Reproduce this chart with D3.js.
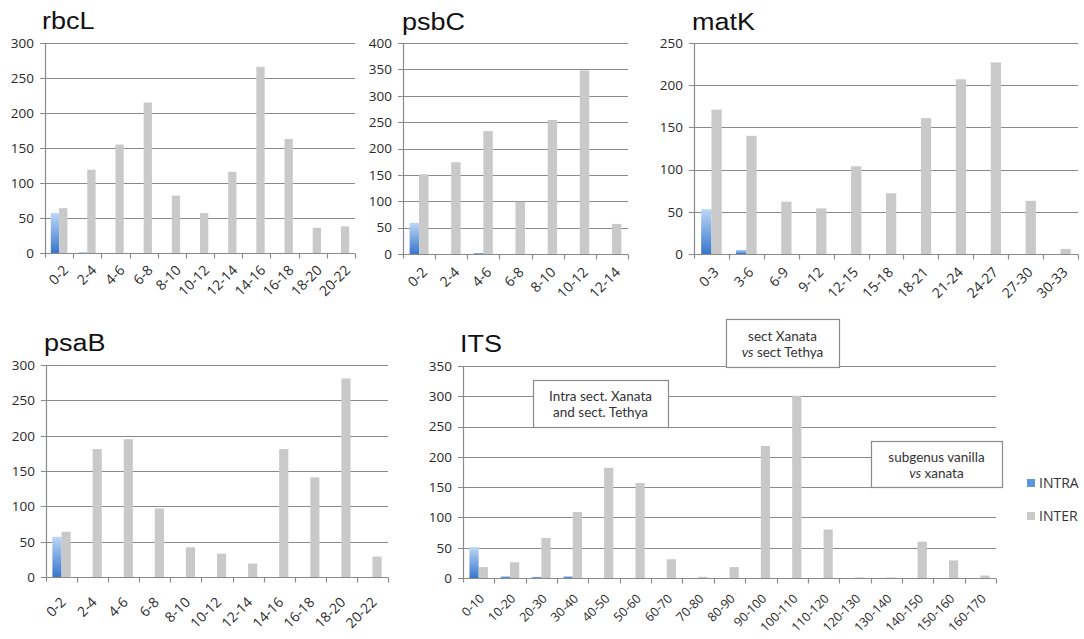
<!DOCTYPE html>
<html>
<head>
<meta charset="utf-8">
<script src="https://cdn.jsdelivr.net/npm/d3@7"></script>
<style>
  html, body { margin: 0; padding: 0; background: #fff; }
  svg { display: block; }
  .tick-y text, .tick-x text { font-family: "Open Sans", "Liberation Sans", sans-serif; fill: #2a2a2a; }
  .title { font-family: "Liberation Sans", Arial, sans-serif; fill: #111; }
  .note { font-family: Lato, "Open Sans", sans-serif; font-size: 13.5px; fill: #333; }
  .legend { font-family: "Open Sans", "Liberation Sans", sans-serif; font-size: 14px; fill: #333; }
</style>
</head>
<body>
<svg id="chart" width="1084" height="639"></svg>
<script>
// Pairwise distance distributions per marker: INTRA vs INTER counts by distance class
const series = ["INTRA", "INTER"];

const rbcLCats  = ["0-2","2-4","4-6","6-8","8-10","10-12","12-14","14-16","16-18","18-20","20-22"];
const rbcLIntra = [57, 1, 0, 0, 0, 0, 0, 0, 0, 0, 0];
const rbcLInter = [64, 119, 155, 215, 82, 57, 116, 266, 163, 36, 38];
const rbcLTicks = [0, 50, 100, 150, 200, 250, 300];

const psbCCats  = ["0-2","2-4","4-6","6-8","8-10","10-12","12-14"];
const psbCIntra = [59, 0, 2, 0, 0, 0, 0];
const psbCInter = [151, 174, 233, 99, 254, 348, 57];
const psbCTicks = [0, 50, 100, 150, 200, 250, 300, 350, 400];

const matKCats  = ["0-3","3-6","6-9","9-12","12-15","15-18","18-21","21-24","24-27","27-30","30-33"];
const matKIntra = [53, 5, 0, 0, 0, 0, 0, 0, 0, 0, 0];
const matKInter = [171, 140, 62, 54, 104, 72, 161, 207, 227, 63, 6];
const matKTicks = [0, 50, 100, 150, 200, 250];

const psaBCats  = ["0-2","2-4","4-6","6-8","8-10","10-12","12-14","14-16","16-18","18-20","20-22"];
const psaBIntra = [57, 0, 0, 0, 0, 0, 0, 0, 0, 0, 0];
const psaBInter = [64, 181, 195, 97, 42, 33, 19, 181, 141, 281, 29];
const psaBTicks = [0, 50, 100, 150, 200, 250, 300];

const itsCats  = ["0-10","10-20","20-30","30-40","40-50","50-60","60-70","70-80","80-90","90-100",
                  "100-110","110-120","120-130","130-140","140-150","150-160","160-170"];
const itsIntra = [51, 3, 2, 3, 0, 0, 0, 0, 0, 0, 0, 0, 0, 0, 0, 0, 0];
const itsInter = [18, 26, 66, 109, 182, 157, 31, 2, 18, 218, 301, 80, 1, 1, 60, 29, 4];
const itsTicks = [0, 50, 100, 150, 200, 250, 300, 350];

// each line is a list of [text, italic] pieces
const itsNotes = [
  { lines: [[["Intra sect. Xanata", false]], [["and sect. Tethya", false]]], box: [533, 380, 668, 427] },
  { lines: [[["sect Xanata", false]], [["vs", true], ["\u00a0sect Tethya", false]]], box: [726, 319, 839, 367] },
  { lines: [[["subgenus vanilla", false]], [["vs", true], ["\u00a0xanata", false]]], box: [871, 441, 1002, 487] }
];

const svg = d3.select("#chart");
const gridColor = "#8a8a8a";
const interColor = "#c9c9c9";

// vertical blue gradient for the INTRA bars
const defs = svg.append("defs");
const grad = defs.append("linearGradient").attr("id", "intraGrad")
  .attr("x1", 0).attr("y1", 0).attr("x2", 0).attr("y2", 1);
grad.append("stop").attr("offset", "0%").attr("stop-color", "#bcd7f7");
grad.append("stop").attr("offset", "100%").attr("stop-color", "#3876cc");

function panel(cfg) {
  const g = svg.append("g");
  const x = d3.scaleBand().domain(cfg.cats).range([cfg.x0, cfg.x1]).padding(0);
  const xs = d3.scaleBand().domain(series).range([0, x.bandwidth()]).paddingInner(0).paddingOuter(0.7);
  const yMax = cfg.ticks[cfg.ticks.length - 1];
  const y = d3.scaleLinear().domain([0, yMax]).range([cfg.yb, cfg.yt]);

  // horizontal gridlines with short ticks left of the axis
  g.append("g").selectAll("line").data(cfg.ticks.filter(t => t > 0)).join("line")
    .attr("x1", cfg.x0 - 5).attr("x2", cfg.x1)
    .attr("y1", d => Math.round(y(d)) + 0.5).attr("y2", d => Math.round(y(d)) + 0.5)
    .attr("stroke", gridColor).attr("stroke-width", 1.2);

  // y labels
  g.append("g").attr("class", "tick-y").selectAll("text").data(cfg.ticks).join("text")
    .attr("x", cfg.x0 - 11).attr("y", d => y(d)).attr("dy", "0.36em")
    .attr("text-anchor", "end").attr("font-size", 13.5).text(d => d);

  // bars
  const rows = cfg.cats.map((c, i) => ({ c, vals: [cfg.intra[i], cfg.inter[i]] }));
  g.append("g").selectAll("g").data(rows).join("g")
    .attr("transform", d => `translate(${x(d.c)},0)`)
    .selectAll("rect").data(d => series.map((s, k) => ({ s, v: d.vals[k] }))).join("rect")
    .attr("x", d => xs(d.s)).attr("width", xs.bandwidth())
    .attr("y", d => y(d.v)).attr("height", d => y(0) - y(d.v))
    .attr("fill", d => d.s === "INTRA" ? "url(#intraGrad)" : interColor);

  // axes lines
  const yb = Math.round(cfg.yb) + 0.5;
  g.append("line").attr("x1", cfg.x0 + 0.5).attr("x2", cfg.x0 + 0.5)
    .attr("y1", Math.round(cfg.yt)).attr("y2", yb + 4)
    .attr("stroke", gridColor).attr("stroke-width", 1.2);
  g.append("line").attr("x1", cfg.x0 - 5).attr("x2", cfg.x1)
    .attr("y1", yb).attr("y2", yb).attr("stroke", gridColor).attr("stroke-width", 1.2);
  // x tick marks on band boundaries
  const bounds = cfg.cats.map(c => x(c)).concat([cfg.x1]);
  g.append("g").selectAll("line").data(bounds.slice(1)).join("line")
    .attr("x1", d => Math.round(d) + 0.5).attr("x2", d => Math.round(d) + 0.5)
    .attr("y1", yb).attr("y2", yb + 5).attr("stroke", gridColor).attr("stroke-width", 1.2);

  // rotated x labels: top end of each label sits just below its band centre
  g.append("g").attr("class", "tick-x").selectAll("text").data(cfg.cats).join("text")
    .attr("text-anchor", "end").attr("font-size", cfg.lfs)
    .attr("transform", d => `translate(${x(d) + x.bandwidth() / 2 + cfg.ldx},${cfg.yb + cfg.ldy}) rotate(-45)`)
    .attr("dy", "0.72em")
    .text(d => d);

  // title
  g.append("text").attr("class", "title")
    .attr("transform", `translate(${cfg.tx},${cfg.ty}) scale(1,0.88)`)
    .attr("font-size", 27).text(cfg.title);
  return { g, x, y };
}

panel({ title: "rbcL", cats: rbcLCats, intra: rbcLIntra, inter: rbcLInter, ticks: rbcLTicks,
        x0: 45, x1: 355, yt: 43, yb: 253, tx: 42, ty: 29, ldx: 3, ldy: 11, lfs: 14 });
panel({ title: "psbC", cats: psbCCats, intra: psbCIntra, inter: psbCInter, ticks: psbCTicks,
        x0: 403, x1: 628, yt: 43, yb: 254, tx: 402, ty: 30, ldx: 2, ldy: 12, lfs: 14 });
panel({ title: "matK", cats: matKCats, intra: matKIntra, inter: matKInter, ticks: matKTicks,
        x0: 694, x1: 1078, yt: 43, yb: 254, tx: 692, ty: 30, ldx: 1, ldy: 12, lfs: 14 });
panel({ title: "psaB", cats: psaBCats, intra: psaBIntra, inter: psaBInter, ticks: psaBTicks,
        x0: 46, x1: 388, yt: 365, yb: 577, tx: 44, ty: 351, ldx: -2, ldy: 19, lfs: 14 });
panel({ title: "ITS", cats: itsCats, intra: itsIntra, inter: itsInter, ticks: itsTicks,
        x0: 463, x1: 996, yt: 366, yb: 578, tx: 460, ty: 352, ldx: 0, ldy: 15, lfs: 12.5 });

// annotation boxes on the ITS panel; each text piece is its own element laid out left to right
itsNotes.forEach(n => {
  const [bx0, by0, bx1, by1] = n.box;
  const ng = svg.append("g");
  ng.append("rect").attr("x", bx0 + 0.5).attr("y", by0 + 0.5)
    .attr("width", bx1 - bx0).attr("height", by1 - by0)
    .attr("fill", "#fff").attr("stroke", "#8a8a8a").attr("stroke-width", 1.2);
  const cx = (bx0 + bx1) / 2, cy = (by0 + by1) / 2 + 1;
  n.lines.forEach((pieces, i) => {
    const ly = cy + (i - 0.5) * 16;
    const nodes = pieces.map(([txt, it]) => ng.append("text").attr("class", "note")
      .attr("y", ly).attr("dy", "0.36em")
      .attr("font-style", it ? "italic" : null).text(txt));
    const widths = nodes.map(t => t.node().getComputedTextLength());
    let px = cx - d3.sum(widths) / 2;
    nodes.forEach((t, k) => { t.attr("x", px); px += widths[k]; });
  });
});

// legend
const leg = svg.append("g");
series.forEach((s, i) => {
  const ly = 483 + i * 33;
  leg.append("rect").attr("x", 1027).attr("y", ly - 4).attr("width", 8).attr("height", 8)
    .attr("fill", s === "INTRA" ? "#5b95dc" : interColor);
  leg.append("text").attr("class", "legend").attr("x", 1039).attr("y", ly).attr("dy", "0.36em").text(s);
});
</script>
</body>
</html>
